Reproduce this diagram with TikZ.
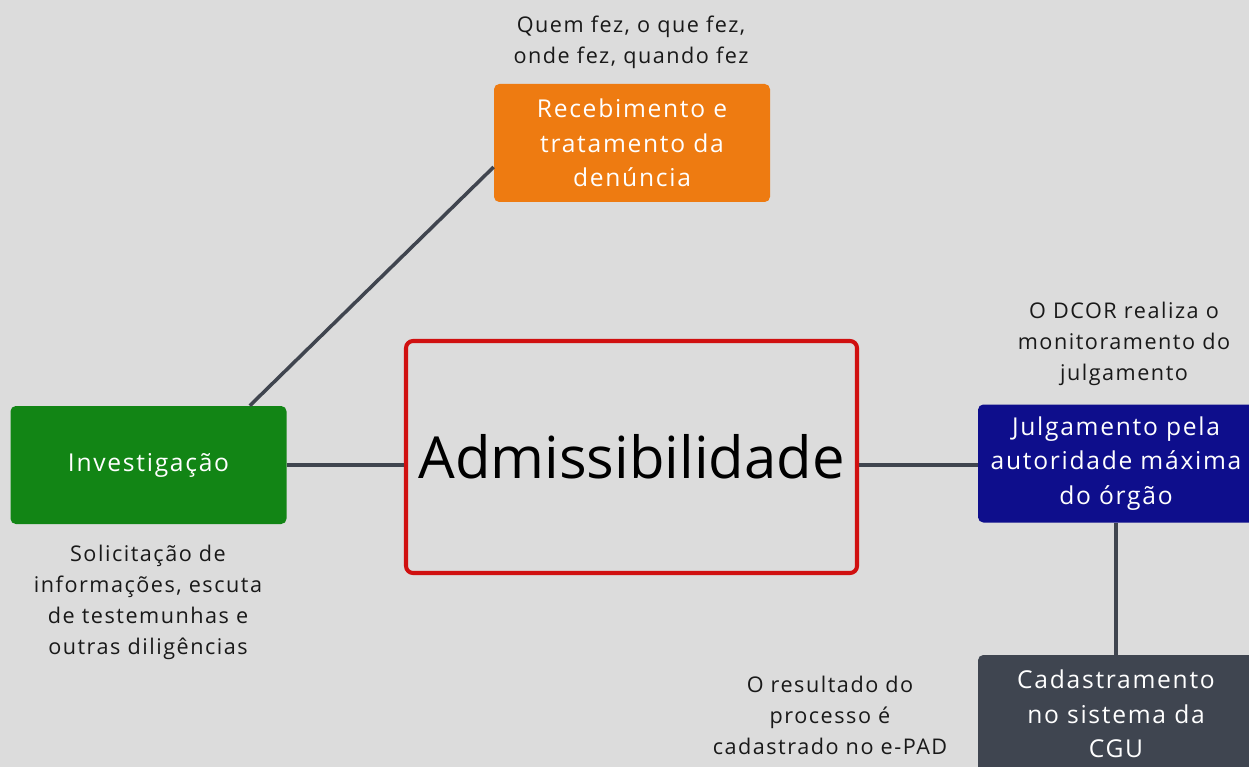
\documentclass[tikz,border=0pt]{standalone}
\usepackage{fontspec}
\setmainfont{Open Sans}
\newfontfamily\spacedsans[LetterSpace=7]{Open Sans}
\usetikzlibrary{positioning}
\definecolor{canvasgray}{RGB}{220,220,220}
\definecolor{boxorange}{RGB}{238,123,17}
\definecolor{boxgreen}{RGB}{18,133,21}
\definecolor{boxblue}{RGB}{14,14,140}
\definecolor{boxslate}{RGB}{63,69,80}
\definecolor{frame red}{RGB}{208,16,16}
\definecolor{linkgray}{RGB}{64,69,79}

\tikzset{
  stage/.style={rectangle, rounded corners=3pt, minimum width=5.52cm, minimum height=2.36cm,
    text=white, align=center, font=\spacedsans\fontsize{14}{19.5}\selectfont, inner sep=2pt},
  note/.style={align=center, text=black!90, font=\spacedsans\fontsize{12.3}{17.6}\selectfont},
  link/.style={draw=linkgray, line width=2pt}
}

\begin{document}
\begin{tikzpicture}
% canvas
\fill[canvasgray] (0,0) rectangle (24.98,-15.34);
\useasboundingbox (0,0) rectangle (24.98,-15.34);
\clip (0,0) rectangle (24.98,-15.34);

% central stage
\node[rectangle, draw=frame red, line width=2.3pt, rounded corners=4pt, minimum width=9.02cm, minimum height=4.64cm,
  font=\fontsize{33}{40}\selectfont] (adm) at (12.63,-9.14) {Admissibilidade};

% stages around it
\node[stage, fill=boxorange] (rec) at (12.64,-2.86) {Recebimento e\\tratamento da\\denúncia};
\node[stage, fill=boxgreen] (inv) at (2.97,-9.30) {Investigação};
\node[stage, fill=boxblue] (jul) at (22.32,-9.27) {Julgamento pela\\autoridade máxima\\do órgão};
\node[stage, fill=boxslate] (cad) at (22.32,-14.28) {Cadastramento\\no sistema da\\CGU};

% notes
\node[note] (quem) at (12.62,-0.84) {Quem fez, o que fez,\\onde fez, quando fez};
\node[note] (dcor) at (22.48,-6.88) {O DCOR realiza o\\monitoramento do\\julgamento};
\node[note] (sol) at (2.96,-12.04) {Solicitação de\\informações, escuta\\de testemunhas e\\outras diligências};
\node[note] (res) at (16.6,-14.3) {O resultado do\\processo é\\cadastrado no e-PAD};

% connections
\draw[link] ([xshift=-0.74cm]inv.north east) -- ([yshift=-0.48cm]rec.west);
\draw[link] (inv.east) -- (adm.west |- inv.east);
\draw[link] (adm.east |- inv.east) -- (jul.west |- inv.east);
\draw[link] (jul.south) -- (cad.north);
\end{tikzpicture}
\end{document}
